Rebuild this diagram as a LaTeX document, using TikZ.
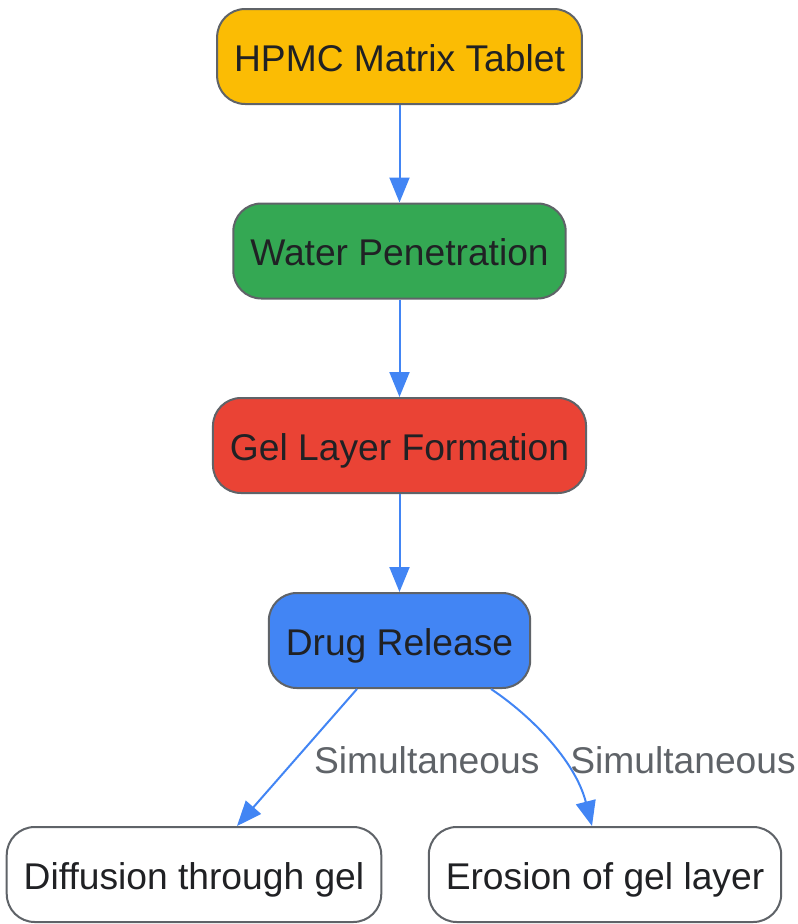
\documentclass[tikz,border=0pt]{standalone}
\usepackage{fontspec}
\setmainfont{Liberation Sans}
\usetikzlibrary{arrows.meta}
\definecolor{tabletcol}{HTML}{FBBC04}
\definecolor{watercol}{HTML}{34A853}
\definecolor{gelcol}{HTML}{EA4335}
\definecolor{drugcol}{HTML}{4285F4}
\definecolor{edgecol}{HTML}{4285F4}
\definecolor{bordercol}{HTML}{5F6368}
\definecolor{textcol}{HTML}{202124}
\definecolor{lblcol}{HTML}{5F6368}
\begin{document}
\begin{tikzpicture}[x=1pt,y=-1pt,
    box/.style={draw=bordercol, line width=2pt, rounded corners=28pt, minimum height=95pt,
        inner xsep=17pt, text height=30pt, text depth=1pt, text=textcol, font=\fontsize{37.2}{44}\selectfont},
    flow/.style={draw=edgecol, line width=2pt, -{Triangle[length=25pt,width=20pt]}},
    lbl/.style={text=lblcol, font=\fontsize{37.2}{44}\selectfont, inner sep=0pt}]
            \useasboundingbox (0,0) rectangle (798,924);
            \node[box, fill=tabletcol] (tablet) at (399.5,56.5) {HPMC Matrix Tablet};
            \node[box, fill=watercol] (water) at (399.5,251) {Water Penetration};
            \node[box, fill=gelcol] (gel) at (399.5,445.5) {Gel Layer Formation};
            \node[box, fill=drugcol] (drug) at (399.5,640.5) {Drug Release};
            \node[box, fill=white] (diffusion) at (194,874.5) {Diffusion through gel};
            \node[box, fill=white] (erosion) at (605,874.5) {Erosion of gel layer};
            \draw[flow] (tablet) -- (water);
            \draw[flow] (water) -- (gel);
            \draw[flow] (gel) -- (drug);
            \draw[flow] ([xshift=-42.5pt]drug.south) -- ([xshift=43pt]diffusion.north)
                node[lbl, pos=0.5, anchor=west, xshift=16pt, yshift=-3pt] {Simultaneous};
            \draw[flow] ([xshift=91.5pt]drug.south) .. controls +(39,26) and +(-17,-66) .. ([xshift=-13pt]erosion.north)
                node[lbl, pos=0.6, anchor=west, xshift=9pt, yshift=-3pt] {Simultaneous};
        \end{tikzpicture}
\end{document}
